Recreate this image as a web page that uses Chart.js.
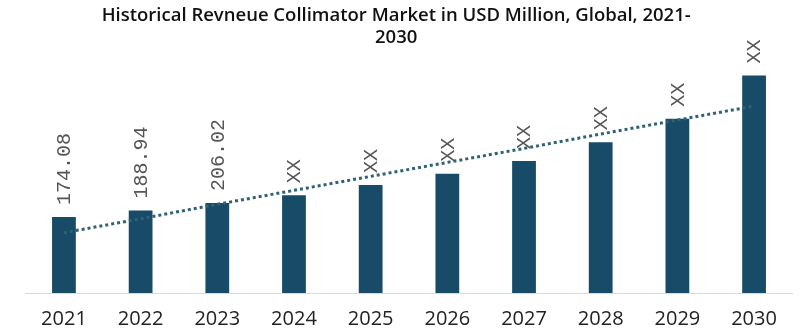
<!DOCTYPE html>
<html>
<head>
<meta charset="utf-8">
<script src="https://cdn.jsdelivr.net/npm/chart.js@4.4.1/dist/chart.umd.min.js"></script>
<style>
  html, body { margin: 0; padding: 0; background: #fff; }
  #wrap { position: relative; width: 800px; height: 332px; }
</style>
</head>
<body>
<div id="wrap"><canvas id="market-chart"></canvas></div>
<script>
// data
const years = ["2021", "2022", "2023", "2024", "2025", "2026", "2027", "2028", "2029", "2030"];
const revenue = [174.08, 188.94, 206.02, 224, 247, 273, 302, 345, 399, 498];
const valueLabels = ["174.08", "188.94", "206.02", "XX", "XX", "XX", "XX", "XX", "XX", "XX"];
const trend = [138, 170, 203, 235, 267, 299, 331, 364, 396, 428];

const titleLines = ["Historical Revneue Collimator Market in USD Million, Global, 2021-", "2030"];

// draws the vertical value labels above each bar
const barLabels = {
  id: "barLabels",
  afterDatasetsDraw(chart) {
    const meta = chart.getDatasetMeta(1);
    const ctx = chart.ctx;
    ctx.save();
    ctx.font = "20px 'Liberation Mono', 'DejaVu Sans Mono', monospace";
    ctx.fillStyle = "#555";
    ctx.textAlign = "left";
    ctx.textBaseline = "middle";
    meta.data.forEach((bar, i) => {
      ctx.save();
      ctx.translate(bar.x, bar.y - 12);
      ctx.rotate(-Math.PI / 2);
      ctx.fillText(valueLabels[i], 0, 1);
      ctx.restore();
    });
    ctx.restore();
  }
};

const canvas = document.getElementById("market-chart");
new Chart(canvas, {
  data: {
    labels: years,
    datasets: [
      {
        type: "line",
        label: "Trend",
        data: trend,
        borderColor: "#2f6277",
        borderWidth: 3,
        borderDash: [3, 3],
        borderCapStyle: "butt",
        pointRadius: 0,
        tension: 0,
        fill: false,
        order: 0
      },
      {
        type: "bar",
        label: "Revenue",
        data: revenue,
        backgroundColor: "#174b68",
        barPercentage: 0.62,
        categoryPercentage: 0.5,
        order: 1
      }
    ]
  },
  options: {
    responsive: true,
    maintainAspectRatio: false,
    animation: false,
    layout: { padding: { left: 0, right: 7.6, top: 0, bottom: 0 } },
    plugins: {
      legend: { display: false },
      tooltip: { enabled: false },
      title: {
        display: true,
        text: titleLines,
        color: "#111",
        font: { family: "'Open Sans', sans-serif", size: 18.5, weight: "600", lineHeight: 1.22 },
        padding: { top: 4.2, bottom: 7.8 }
      }
    },
    scales: {
      x: {
        grid: { display: false, drawTicks: false },
        border: { display: true, color: "#d9d9d9", width: 1 },
        ticks: {
          color: "#222",
          padding: 14,
          font: { family: "'Open Sans', sans-serif", size: 20 }
        },
        afterFit(scale) { scale.height = 39; }
      },
      y: {
        display: true,
        min: 0,
        max: 540,
        grid: { display: false, drawTicks: false },
        border: { display: false },
        ticks: { display: false },
        afterFit(scale) { scale.width = 25.6; }
      }
    }
  },
  plugins: [barLabels]
});
</script>
</body>
</html>
